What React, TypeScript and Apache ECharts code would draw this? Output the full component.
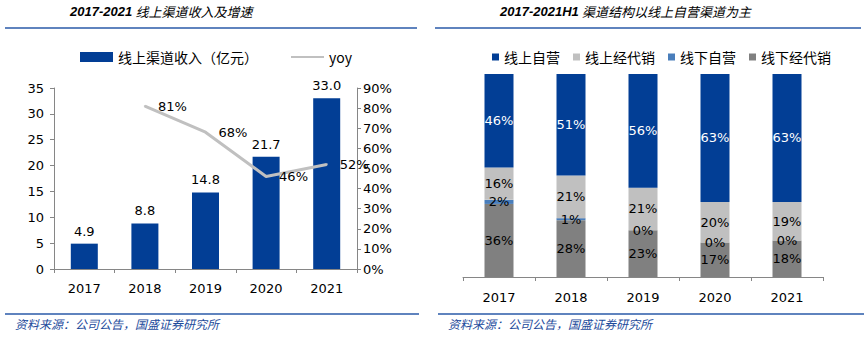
import React, { useEffect, useRef } from "react";
import * as echarts from "echarts";

const years = ["2017", "2018", "2019", "2020", "2021"];
const revenue = [4.9, 8.8, 14.8, 21.7, 33.0];
const yoy = [null, 81, 68, 46, 52];
const leftTicks = [0, 5, 10, 15, 20, 25, 30, 35];

const onlineSelf = [46, 51, 56, 63, 63];
const onlineDist = [16, 21, 21, 20, 19];
const offlineSelf = [2, 1, 0, 0, 0];
const offlineDist = [36, 28, 23, 17, 18];

const leftTitleNum = "2017-2021";
const leftTitleText = "线上渠道收入及增速";
const rightTitleNum = "2017-2021H1";
const rightTitleText = "渠道结构以线上自营渠道为主";
const source = "资料来源：公司公告，国盛证券研究所";

const DARK = "#023e95";
const LGRAY = "#c0c0c0";
const LBLUE = "#4a7ebb";
const DGRAY = "#808080";
const AXIS = "#868686";
const TITLE = "#1d4b9c";
const NUM_FONT = "'DejaVu Sans', Verdana, sans-serif";
const CJK_FONT = "'Noto Sans CJK SC', sans-serif";

export default function App() {
  const ref = useRef<HTMLDivElement>(null);
  useEffect(() => {
    const chart = echarts.init(ref.current!, null, { renderer: "svg" });
    const axisCommon = {
      axisLine: { show: true, lineStyle: { color: AXIS, width: 1 } },
      axisTick: { show: true, length: 4, lineStyle: { color: AXIS } },
      splitLine: { show: false },
      axisLabel: { color: "#000", fontSize: 13, fontFamily: NUM_FONT },
    };
    const titleRich = {
      a: {
        fontFamily: "'Liberation Sans', sans-serif",
        fontStyle: "italic",
        fontWeight: "bold",
        fontSize: 13,
        color: TITLE,
      },
      b: {
        fontFamily: CJK_FONT,
        fontStyle: "italic",
        fontWeight: "normal",
        fontSize: 13,
        color: TITLE,
      },
    };
    chart.setOption({
      animation: false,
      backgroundColor: "#fff",
      textStyle: { fontFamily: NUM_FONT },
      grid: [
        { left: 54, right: 509, top: 88, bottom: 68 },
        { left: 463, right: 43, top: 74, bottom: 60 },
      ],
      legend: [
        {
          left: 75,
          top: 45,
          itemWidth: 33,
          itemHeight: 10,
          itemGap: 32,
          textStyle: { fontSize: 14, fontFamily: CJK_FONT, color: "#000" },
          data: [
            { name: "线上渠道收入（亿元）", icon: "rect" },
            { name: "yoy", itemStyle: { opacity: 0 } },
          ],
        },
        {
          left: 487,
          top: 45,
          itemWidth: 7,
          itemHeight: 7,
          itemGap: 13,
          textStyle: { fontSize: 14, fontFamily: CJK_FONT, color: "#000" },
          data: [
            { name: "线上自营", icon: "rect" },
            { name: "线上经代销", icon: "rect" },
            { name: "线下自营", icon: "rect" },
            { name: "线下经代销", icon: "rect" },
          ],
        },
      ],
      xAxis: [
        {
          type: "category",
          gridIndex: 0,
          data: years,
          ...axisCommon,
          axisLabel: { ...axisCommon.axisLabel, margin: 13 },
        },
        {
          type: "category",
          gridIndex: 1,
          data: years,
          ...axisCommon,
          axisLabel: { ...axisCommon.axisLabel, margin: 14 },
        },
      ],
      yAxis: [
        {
          type: "value",
          gridIndex: 0,
          min: leftTicks[0],
          max: leftTicks[leftTicks.length - 1],
          interval: 5,
          ...axisCommon,
          axisLabel: { ...axisCommon.axisLabel, margin: 10 },
        },
        {
          type: "value",
          gridIndex: 0,
          position: "right",
          min: 0,
          max: 90,
          interval: 10,
          ...axisCommon,
          axisLabel: { ...axisCommon.axisLabel, margin: 6, formatter: "{value}%" },
        },
        {
          type: "value",
          gridIndex: 1,
          min: 0,
          max: 100,
          show: false,
        },
      ],
      series: [
        {
          name: "线上渠道收入（亿元）",
          type: "bar",
          xAxisIndex: 0,
          yAxisIndex: 0,
          data: revenue,
          barWidth: 27,
          itemStyle: { color: DARK },
          label: {
            show: true,
            position: "top",
            distance: 6,
            color: "#000",
            fontSize: 13,
            fontFamily: NUM_FONT,
            formatter: (p: any) => Number(p.value).toFixed(1),
          },
        },
        {
          name: "yoy",
          type: "line",
          xAxisIndex: 0,
          yAxisIndex: 1,
          data: yoy,
          symbol: "circle",
          symbolSize: 2,
          showSymbol: true,
          lineStyle: { color: LGRAY, width: 3 },
          itemStyle: { color: LGRAY },
          label: {
            show: true,
            position: "right",
            distance: 12,
            color: "#000",
            fontSize: 13,
            fontFamily: NUM_FONT,
            formatter: "{c}%",
          },
        },
        ...[
          ["线下经代销", offlineDist, DGRAY, "#000"],
          ["线下自营", offlineSelf, LBLUE, "#000"],
          ["线上经代销", onlineDist, LGRAY, "#000"],
          ["线上自营", onlineSelf, DARK, "#fff"],
        ].map(([name, data, color, lc]) => ({
          name,
          type: "bar",
          xAxisIndex: 1,
          yAxisIndex: 2,
          stack: "s",
          data,
          barWidth: 29,
          itemStyle: { color },
          label: {
            show: true,
            position: "inside",
            color: lc,
            fontSize: 13,
            fontFamily: NUM_FONT,
            formatter: "{c}%",
          },
        })),
      ],
      graphic: [
        {
          type: "text",
          left: 70,
          top: 5,
          style: {
            text: `{a|${leftTitleNum}} {b|${leftTitleText}}`,
            rich: titleRich,
          },
        },
        {
          type: "text",
          left: 500,
          top: 5,
          style: {
            text: `{a|${rightTitleNum}} {b|${rightTitleText}}`,
            rich: titleRich,
          },
        },
        { type: "line", shape: { x1: 5, y1: 28, x2: 417, y2: 28 }, style: { stroke: "#2a5aa8", lineWidth: 1.5 } },
        { type: "line", shape: { x1: 435, y1: 28, x2: 861, y2: 28 }, style: { stroke: "#2a5aa8", lineWidth: 1.5 } },
        { type: "line", shape: { x1: 5, y1: 314, x2: 419, y2: 314 }, style: { stroke: "#2a5aa8", lineWidth: 1.5 } },
        { type: "line", shape: { x1: 438, y1: 314, x2: 864, y2: 314 }, style: { stroke: "#2a5aa8", lineWidth: 1.5 } },
        {
          type: "text",
          left: 15,
          top: 317,
          style: { text: source, fill: TITLE, font: "italic 12px 'Noto Sans CJK SC', sans-serif" },
        },
        {
          type: "text",
          left: 448,
          top: 317,
          style: { text: source, fill: TITLE, font: "italic 12px 'Noto Sans CJK SC', sans-serif" },
        },
      ],
    });
    return () => chart.dispose();
  }, []);
  return (
    <div
      ref={ref}
      style={{ position: "fixed", left: 0, top: 0, width: 866, height: 337 }}
    />
  );
}
